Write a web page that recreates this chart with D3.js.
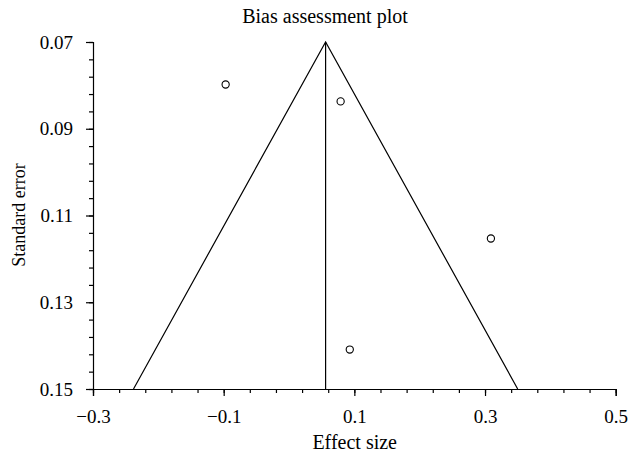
<!DOCTYPE html>
<html><head><meta charset="utf-8">
<script src="https://cdn.jsdelivr.net/npm/d3@7"></script>
<style>body{margin:0;background:#fff}svg{display:block}text{font-family:"Liberation Serif","DejaVu Serif",serif;fill:#000}</style>
</head><body><svg id="c" width="628" height="456"></svg>
<script>
const effect = [-0.097, 0.079, 0.309, 0.093];
const stderr = [0.0798, 0.0837, 0.1153, 0.1409];
const pooled = 0.056;
const limitHalfWidth = 0.294;
const xTicks = [-0.3, -0.1, 0.1, 0.3, 0.5];
const yTicks = [0.07, 0.09, 0.11, 0.13, 0.15];
const xLabels = ["\u22120.3", "\u22120.1", "0.1", "0.3", "0.5"];
const yLabels = ["0.07", "0.09", "0.11", "0.13", "0.15"];

const svg = d3.select("#c");
const x = d3.scaleLinear().domain([-0.3, 0.5]).range([93, 615.7]);
const y = d3.scaleLinear().domain([0.07, 0.15]).range([42, 389]);

const xMinor = d3.range(0, 21).map(i => -0.3 + i * 0.04);
const yMinor = d3.range(0, 21).map(i => 0.07 + i * 0.004);

// minor ticks
svg.append("g").attr("transform", `translate(0,${y(0.15)})`)
  .call(d3.axisBottom(x).tickValues(xMinor).tickSize(4).tickFormat(""))
  .call(g => g.select(".domain").remove());
svg.append("g").attr("transform", `translate(${x(-0.3)},0)`)
  .call(d3.axisLeft(y).tickValues(yMinor).tickSize(4).tickFormat(""))
  .call(g => g.select(".domain").remove());

// major axes
svg.append("g").attr("transform", `translate(0,${y(0.15)})`)
  .call(d3.axisBottom(x).tickValues(xTicks).tickSizeOuter(0).tickSize(7).tickPadding(14)
    .tickFormat((d, i) => xLabels[i]));
svg.append("g").attr("transform", `translate(${x(-0.3)},0)`)
  .call(d3.axisLeft(y).tickValues(yTicks).tickSizeOuter(0).tickSize(7).tickPadding(13)
    .tickFormat((d, i) => yLabels[i]));
svg.selectAll(".tick text").style("font-family", '"Liberation Serif",serif').style("font-size", "19px").attr("fill", "#000");
svg.selectAll(".domain, .tick line").attr("stroke", "#000").attr("stroke-width", 1.2);

// funnel
const line = d3.line().x(d => x(d[0])).y(d => y(d[1]));
svg.append("path")
  .attr("d", line([[pooled - limitHalfWidth, 0.15], [pooled, 0.07], [pooled + limitHalfWidth, 0.15]]))
  .attr("fill", "none").attr("stroke", "#000").attr("stroke-width", 1.2);
svg.append("path")
  .attr("d", line([[pooled, 0.07], [pooled, 0.15]]))
  .attr("fill", "none").attr("stroke", "#000").attr("stroke-width", 1.2);

// points
svg.selectAll("circle.pt").data(effect).join("circle").attr("class", "pt")
  .attr("cx", d => x(d)).attr("cy", (d, i) => y(stderr[i])).attr("r", 3.6)
  .attr("fill", "none").attr("stroke", "#000").attr("stroke-width", 1.1);

// titles
svg.append("text").attr("x", 325).attr("y", 22.5).attr("text-anchor", "middle")
  .style("font-size", "20px").text("Bias assessment plot");
svg.append("text").attr("x", 354.7).attr("y", 449).attr("text-anchor", "middle")
  .style("font-size", "20px").text("Effect size");
svg.append("text").attr("transform", `translate(25,215) rotate(-90)`).attr("text-anchor", "middle")
  .style("font-size", "18px").text("Standard error");
</script></body></html>
